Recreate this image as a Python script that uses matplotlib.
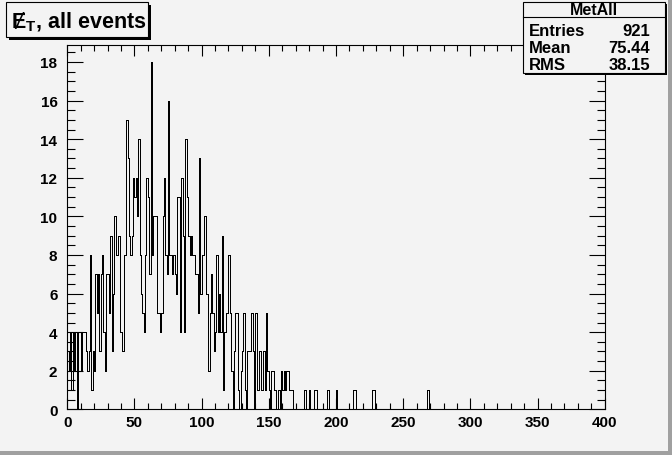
import numpy as np
import matplotlib
matplotlib.use('Agg')
import matplotlib.pyplot as plt
from matplotlib.patches import Rectangle
from matplotlib.ticker import MultipleLocator

# missing ET histogram, 1 GeV bins from 0 to 400
counts_low = [
    3, 2, 4, 1, 4, 2, 4, 0, 4, 4, 2, 4, 4, 4, 3, 2, 3, 8, 1, 3,
    2, 7, 5, 7, 3, 7, 8, 4, 2, 7, 7, 5, 9, 3, 6, 10, 8, 8, 9, 4,
    4, 3, 8, 8, 15, 13, 9, 8, 9, 12, 11, 12, 10, 14, 8, 6, 5, 4, 8, 12,
    11, 7, 18, 8, 10, 10, 10, 5, 5, 4, 5, 10, 12, 8, 7, 16, 8, 8, 7, 8,
    7, 6, 11, 11, 4, 12, 9, 4, 14, 11, 9, 8, 9, 8, 8, 7, 7, 5, 13, 6,
    8, 8, 10, 6, 6, 2, 5, 7, 5, 3, 4, 8, 4, 6, 4, 9, 1, 4, 5, 5,
    8, 5, 2, 0, 3, 5, 5, 1, 0, 2, 3, 5, 1, 0, 3, 3, 3, 5, 3, 0,
    5, 1, 1, 3, 1, 1, 3, 1, 5, 2, 1, 0, 2, 2, 1, 0, 0, 1, 0, 2,
    1, 2, 1, 2, 2, 1, 1, 1, 0, 0,
]
tail_bins = [176, 177, 180, 184, 185, 193, 194, 200, 213, 214, 227, 228, 268]
tail_counts = [1, 1, 1, 1, 1, 1, 1, 1, 1, 1, 1, 1, 1]

hist_name = 'MetAll'
stat_names = ['Entries', 'Mean', 'RMS']
stat_values = ['921', '75.44', '38.15']

W, H = 672, 456
bg = '#f3f3f3'
font = ['Liberation Sans', 'DejaVu Sans']


def fx(x):
    return x / W


def fy(y):
    return 1 - y / H


def main():
    counts = np.zeros(400)
    counts[:len(counts_low)] = counts_low
    counts[tail_bins] = tail_counts
    edges = np.arange(401)

    fig = plt.figure(figsize=(W / 100, H / 100), dpi=100, facecolor=bg)
    ax = fig.add_axes([0.1, 0.1, 0.8, 0.8])
    ax.set_facecolor(bg)

    ax.stairs(counts, edges, color='black', linewidth=0.6, antialiased=False)

    ax.set_xlim(0, 400)
    ax.set_ylim(0, 18.9)
    ax.xaxis.set_major_locator(MultipleLocator(50))
    ax.xaxis.set_minor_locator(MultipleLocator(10))
    ax.yaxis.set_major_locator(MultipleLocator(2))
    ax.yaxis.set_minor_locator(MultipleLocator(0.5))

    ax.tick_params(which='both', direction='in', top=True, right=True,
                   width=0.8, color='black')
    ax.tick_params(axis='x', which='major', length=8, pad=4)
    ax.tick_params(axis='x', which='minor', length=4)
    ax.tick_params(axis='y', which='major', length=11.5, pad=7)
    ax.tick_params(axis='y', which='minor', length=5.8)
    for lab in ax.get_xticklabels() + ax.get_yticklabels():
        lab.set_fontfamily(font)
        lab.set_fontweight('bold')
        lab.set_fontsize(11)
    for sp in ax.spines.values():
        sp.set_linewidth(0.8)

    # canvas bevel
    fig.add_artist(Rectangle((0, 0), 1, fy(452), transform=fig.transFigure,
                             facecolor='#a0a0a0', edgecolor='none'))
    fig.add_artist(Rectangle((fx(668), 0), fx(4), 1, transform=fig.transFigure,
                             facecolor='#a0a0a0', edgecolor='none'))

    # title box
    x0, y0, x1, y1 = 6, 3, 148, 38
    fig.add_artist(Rectangle((fx(x0 + 3), fy(y1 + 3)), fx(x1 - x0), fy(y0) - fy(y1),
                             transform=fig.transFigure, facecolor='black',
                             edgecolor='none'))
    fig.add_artist(Rectangle((fx(x0), fy(y1)), fx(x1 - x0), fy(y0) - fy(y1),
                             transform=fig.transFigure, facecolor=bg,
                             edgecolor='black', linewidth=0.8))
    fig.text(fx(11), fy(22), 'Ɇ$_{\\mathregular{T}}$, all events', fontsize=15.5,
             fontweight='bold', family=font, va='center', ha='left')

    # stats box
    sx0, sy0, sx1, sy1 = 523, 3, 665, 74
    fig.add_artist(Rectangle((fx(sx0 + 2), fy(sy1 + 2)), fx(sx1 - sx0), fy(sy0) - fy(sy1),
                             transform=fig.transFigure, facecolor='black',
                             edgecolor='none'))
    fig.add_artist(Rectangle((fx(sx0), fy(sy1)), fx(sx1 - sx0), fy(sy0) - fy(sy1),
                             transform=fig.transFigure, facecolor=bg,
                             edgecolor='black', linewidth=0.8))
    fig.add_artist(plt.Line2D([fx(sx0), fx(sx1)], [fy(17.5), fy(17.5)],
                              transform=fig.transFigure, color='black', linewidth=0.8))
    fig.text(fx((sx0 + sx1) / 2), fy(10.5), hist_name, fontsize=11.5, fontweight='bold',
             family=font, ha='center', va='center')
    for i in range(len(stat_names)):
        yy = 31 + 17.5 * i
        fig.text(fx(529), fy(yy), stat_names[i], fontsize=12, fontweight='bold',
                 family=font, ha='left', va='center')
        fig.text(fx(650), fy(yy), stat_values[i], fontsize=12, fontweight='bold',
                 family=font, ha='right', va='center')

    fig.savefig('out.png', dpi=100, facecolor=bg)


if __name__ == '__main__':
    main()
